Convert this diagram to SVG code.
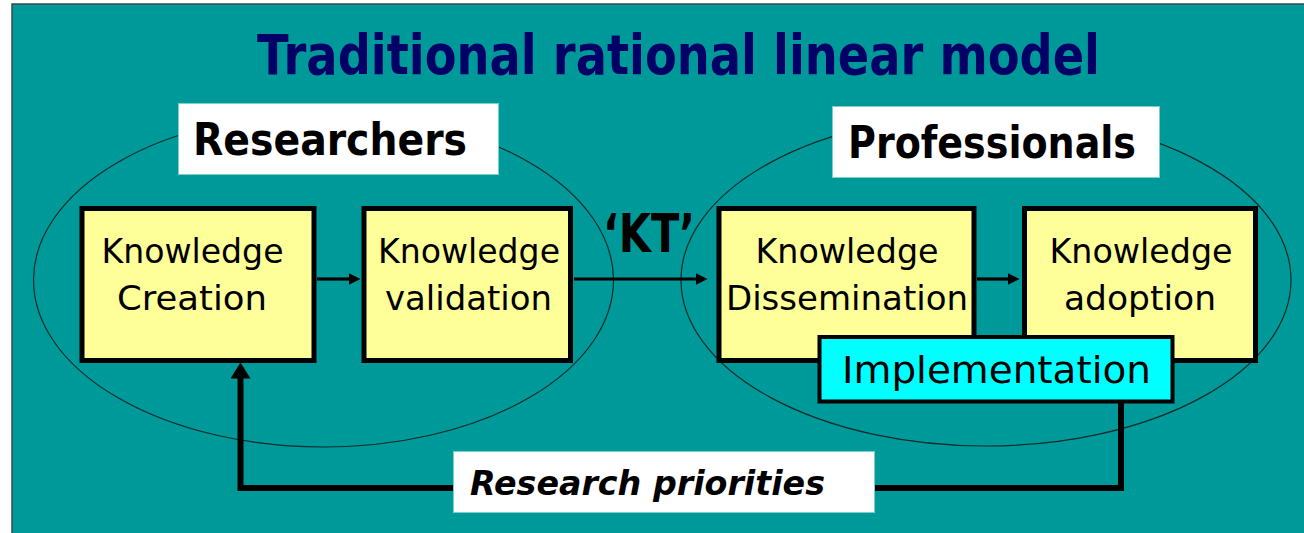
<svg xmlns="http://www.w3.org/2000/svg" width="1304" height="533" viewBox="0 0 1304 533">
<style>
.bg{fill:#009999;stroke:#3a4a4a;stroke-width:1.5}
.ell{fill:none;stroke:#0d2b2b;stroke-width:1.2}
.lbl{fill:#ffffff;stroke:#7fcfcf;stroke-width:1}
.box{fill:#ffff99;stroke:#000000;stroke-width:5}
.impl{fill:#00ffff;stroke:#000000;stroke-width:4}
.t{font-family:"DejaVu Sans","Liberation Sans",sans-serif;fill:#000000}
.bt{font-size:33px;text-anchor:middle}
.head{font-size:45px;font-weight:bold}
.conn{fill:none;stroke:#000000;stroke-linejoin:miter}
</style>
<defs>
<marker id="arrS" markerUnits="userSpaceOnUse" markerWidth="13" markerHeight="12" refX="0.5" refY="6" orient="auto">
<path d="M0,0 L12,6 L0,12 z" fill="#000000"/>
</marker>
<marker id="arrL" markerUnits="userSpaceOnUse" markerWidth="17" markerHeight="20" refX="0.5" refY="10" orient="auto">
<path d="M0,0 L16,10 L0,20 z" fill="#000000"/>
</marker>
</defs>
<rect class="bg" x="12" y="4" width="1300" height="540"/>
<text x="678.5" y="73.5" text-anchor="middle" textLength="843" lengthAdjust="spacingAndGlyphs" style="font-family:'DejaVu Sans','Liberation Sans',sans-serif;font-size:56px;font-weight:bold;fill:#000066">Traditional rational linear model</text>
<g id="researchers-group">
<ellipse class="ell" cx="323.5" cy="280" rx="290" ry="167"/>
</g>
<g id="professionals-group">
<ellipse class="ell" cx="986" cy="280" rx="305" ry="166"/>
</g>
<g id="connectors">
<path class="conn" d="M317,279 H349" stroke-width="3.2" marker-end="url(#arrS)"/>
<path class="conn" d="M574,279 H696" stroke-width="3.2" marker-end="url(#arrS)"/>
<path class="conn" d="M977,279 H1008" stroke-width="3.2" marker-end="url(#arrS)"/>
<path class="conn" d="M1121,403 V488 H240.5 V378" stroke-width="6" marker-end="url(#arrL)"/>
</g>
<g id="kt-label">
<text class="t" x="649" y="252" text-anchor="middle" textLength="92" lengthAdjust="spacingAndGlyphs" style="font-size:54px;font-weight:bold">‘KT’</text>
</g>
<g id="researchers-label">
<rect class="lbl" x="178.5" y="103.5" width="320" height="71"/>
<text class="t head" x="193" y="155" textLength="274" lengthAdjust="spacingAndGlyphs">Researchers</text>
</g>
<g id="professionals-label">
<rect class="lbl" x="832.5" y="106.5" width="327" height="71"/>
<text class="t head" x="848" y="158" textLength="288" lengthAdjust="spacingAndGlyphs">Professionals</text>
</g>
<g id="knowledge-creation">
<rect class="box" x="82" y="208.5" width="232" height="152"/>
<text class="t bt" x="192.5" y="263" textLength="182" lengthAdjust="spacingAndGlyphs">Knowledge</text>
<text class="t bt" x="192" y="310" textLength="150" lengthAdjust="spacingAndGlyphs">Creation</text>
</g>
<g id="knowledge-validation">
<rect class="box" x="364" y="208.5" width="206.5" height="152"/>
<text class="t bt" x="469" y="263" textLength="182" lengthAdjust="spacingAndGlyphs">Knowledge</text>
<text class="t bt" x="468.5" y="310" textLength="167" lengthAdjust="spacingAndGlyphs">validation</text>
</g>
<g id="knowledge-dissemination">
<rect class="box" x="719" y="208.5" width="255" height="152"/>
<text class="t bt" x="847" y="263" textLength="183" lengthAdjust="spacingAndGlyphs">Knowledge</text>
<text class="t bt" x="847" y="310" textLength="242" lengthAdjust="spacingAndGlyphs">Dissemination</text>
</g>
<g id="knowledge-adoption">
<rect class="box" x="1024.5" y="208.5" width="231" height="152"/>
<text class="t bt" x="1141" y="263" textLength="183" lengthAdjust="spacingAndGlyphs">Knowledge</text>
<text class="t bt" x="1140" y="310" textLength="152" lengthAdjust="spacingAndGlyphs">adoption</text>
</g>
<g id="implementation">
<rect class="impl" x="819.5" y="337" width="353" height="64.5"/>
<text class="t" x="996.5" y="383" text-anchor="middle" textLength="309" lengthAdjust="spacingAndGlyphs" style="font-size:38px">Implementation</text>
</g>
<g id="research-priorities">
<rect class="lbl" x="453.5" y="451.5" width="421" height="61"/>
<text class="t" x="470" y="495" textLength="355" lengthAdjust="spacingAndGlyphs" style="font-size:34px;font-weight:bold;font-style:italic">Research priorities</text>
</g>
</svg>
